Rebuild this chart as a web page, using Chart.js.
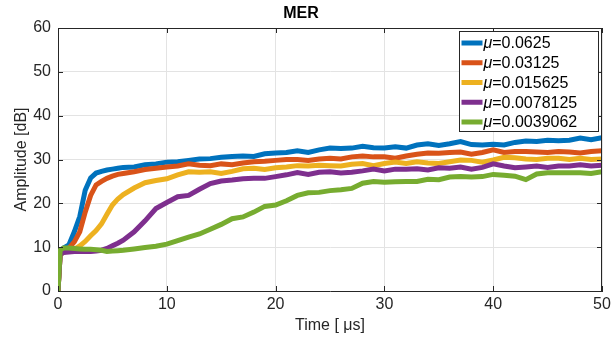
<!DOCTYPE html>
<html>
<head>
<meta charset="utf-8">
<script src="https://cdn.jsdelivr.net/npm/chart.js@4/dist/chart.umd.min.js"></script>
<style>
  html, body { margin: 0; padding: 0; background: #fff; }
  #wrap { width: 612px; height: 337px; }
</style>
</head>
<body>
<div id="wrap"><canvas id="merChart"></canvas></div>
<script>
//time axis [us]
var times = [0, 0.2, 0.5, 1, 1.5, 2, 2.5, 3, 3.5, 4, 4.5, 5, 5.5, 6,
  7, 8, 9, 10, 11, 12, 13, 14, 15, 16, 17, 18, 19, 20, 21, 22, 23, 24, 25,
  26, 27, 28, 29, 30, 31, 32, 33, 34, 35, 36, 37, 38, 39, 40, 41, 42, 43,
  44, 45, 46, 47, 48, 49, 50];

//step sizes (legend)
var muLabels = ['0.0625', '0.03125', '0.015625', '0.0078125', '0.0039062'];
var lineColors = ['#0072BD', '#D95319', '#EDB120', '#7E2F8E', '#77AC30'];

//MER values [dB] per step size
var mer0625 = [0, 8.5, 9.8, 10.5, 13.5, 17, 23, 25.8, 26.9, 27.3, 27.6, 27.8, 28, 28.2,
  28.3, 28.8, 29, 29.4, 29.5, 29.8, 30.1, 30.2, 30.5, 30.7, 30.8, 30.7, 31.3, 31.5, 31.6, 32, 31.6, 32.2, 32.6,
  32.5, 32.6, 33, 32.7, 32.6, 32.9, 32.6, 33.3, 33.6, 33.2, 33.6, 34.1, 33.4, 33.3, 33.5, 33.3, 33.9, 34.2,
  34.1, 34.4, 34.3, 34.4, 34.9, 34.5, 35];
var mer03125 = [0, 8.5, 9.3, 9.8, 11.2, 13.5, 18, 21.8, 24.2, 25, 25.7, 26.2, 26.6, 26.8,
  27.2, 27.7, 28, 28.3, 28.5, 29, 28.7, 28.6, 29, 28.8, 29.2, 29.5, 29.6, 29.8, 30, 30, 29.8, 30.1, 30.3,
  30.1, 30.6, 30.8, 30.6, 30.6, 30.3, 30.8, 31.2, 31.5, 31.4, 31.6, 31.7, 31.2, 31.6, 32.2, 31.6, 31.8, 31.8,
  31.7, 31.6, 31.8, 31.7, 31.5, 31.8, 32];
var mer015625 = [0, 8.3, 8.8, 9.2, 9.5, 10.3, 11.3, 12.6, 13.8, 15.3, 17.5, 19.6, 21, 22,
  23.5, 24.7, 25.2, 25.6, 26.5, 27.2, 27.1, 27.2, 26.8, 27.3, 27.9, 28, 27.7, 28.1, 28.3, 28.6, 28.5, 28.7, 28.6,
  28.5, 28.9, 29.1, 28.6, 29.1, 29.4, 29.1, 29.5, 29.2, 29.1, 29.5, 29.9, 29.8, 29.4, 29.9, 30.5, 30.4, 30.1,
  30, 30.3, 30.3, 30, 30.3, 30, 30.1];
var mer0078 = [0, 8.3, 8.8, 8.9, 9, 9, 9, 9, 9.1, 9.3, 9.7, 10.3, 10.9, 11.6,
  13.5, 16, 18.8, 20.2, 21.5, 21.8, 23.2, 24.5, 25.1, 25.3, 25.6, 25.7, 25.7, 26.1, 26.5, 27, 26.6, 27.1, 27.2,
  26.9, 27.1, 27.4, 27.8, 27.4, 27.8, 27.8, 27.9, 27.6, 28.1, 28, 28.3, 27.8, 28.2, 29, 28.5, 28.1, 28.3,
  28.5, 28.2, 28.5, 28.5, 28.8, 28.5, 28.7];
var mer0039 = [0, 9.3, 9.8, 9.8, 9.7, 9.6, 9.5, 9.5, 9.4, 9.3, 9.0, 9.1, 9.2, 9.3,
  9.6, 9.9, 10.2, 10.7, 11.5, 12.3, 13, 14.1, 15.2, 16.5, 16.9, 18, 19.3, 19.6, 20.6, 21.8, 22.4, 22.5, 22.9,
  23.1, 23.4, 24.6, 25, 24.8, 24.9, 25, 25, 25.5, 25.4, 26, 26.1, 26, 26.1, 26.6, 26.4, 26.2, 25.4,
  26.7, 27, 27, 27, 27, 26.8, 27.2];

var xTicks = [0, 10, 20, 30, 40, 50];
var yTicks = [0, 10, 20, 30, 40, 50, 60];

var axisColor = '#262626';
Chart.defaults.font.family = "'Liberation Sans', Arial, sans-serif";

//building datasets
var series = [mer0625, mer03125, mer015625, mer0078, mer0039];
var datasets = series.map(function (values, i) {
    return {
        label: '\u03bc=' + muLabels[i],
        data: values.map(function (v, k) { return { x: times[k], y: v }; }),
        borderColor: lineColors[i],
        backgroundColor: lineColors[i],
        borderWidth: 5,
        pointRadius: 0,
        tension: 0,
        fill: false,
        order: series.length - i
    };
});

//box, inward ticks and legend like matlab
var matlabPlugin = {
    id: 'matlabBox',
    afterDraw: function (chart) {
        var ctx = chart.ctx;
        var a = chart.chartArea;
        var xs = chart.scales.x, ys = chart.scales.y;
        ctx.save();
        ctx.strokeStyle = axisColor;
        ctx.lineWidth = 1;
        ctx.beginPath();
        ctx.moveTo(a.left, a.top + 0.5);
        ctx.lineTo(a.right, a.top + 0.5);
        ctx.moveTo(a.right - 0.5, a.top);
        ctx.lineTo(a.right - 0.5, a.bottom);
        xTicks.forEach(function (t) {
            var px = Math.round(xs.getPixelForValue(t)) + 0.5;
            ctx.moveTo(px, a.bottom); ctx.lineTo(px, a.bottom - 5);
            ctx.moveTo(px, a.top); ctx.lineTo(px, a.top + 5);
        });
        yTicks.forEach(function (t) {
            var py = Math.round(ys.getPixelForValue(t)) + 0.5;
            ctx.moveTo(a.left, py); ctx.lineTo(a.left + 5, py);
            ctx.moveTo(a.right, py); ctx.lineTo(a.right - 5, py);
        });
        ctx.stroke();

        //legend
        var boxW = 139, boxH = 100;
        var bx = Math.round(a.right - 4 - boxW) + 0.5;
        var by = Math.round(a.top + 3) + 0.5;
        ctx.fillStyle = '#fff';
        ctx.fillRect(bx, by, boxW, boxH);
        ctx.strokeStyle = axisColor;
        ctx.strokeRect(bx, by, boxW, boxH);
        ctx.textBaseline = 'middle';
        chart.data.datasets.forEach(function (ds, i) {
            var ry = by + 11.5 + i * 19.75;
            ctx.strokeStyle = ds.borderColor;
            ctx.lineWidth = 5;
            ctx.beginPath();
            ctx.moveTo(bx + 2, ry);
            ctx.lineTo(bx + 23, ry);
            ctx.stroke();
            ctx.fillStyle = '#000';
            ctx.font = "italic 16px 'Liberation Sans', Arial, sans-serif";
            ctx.fillText('\u03bc', bx + 24, ry + 1);
            var w = ctx.measureText('\u03bc').width;
            ctx.font = "16px 'Liberation Sans', Arial, sans-serif";
            ctx.fillText('=' + muLabels[i], bx + 24 + w, ry + 1);
        });
        ctx.restore();
    }
};

var merChart = new Chart(document.getElementById('merChart').getContext('2d'), {
    type: 'line',
    data: { datasets: datasets },
    options: {
        responsive: true,
        maintainAspectRatio: false,
        animation: false,
        layout: { padding: { left: 0, right: 10, top: 0, bottom: 0 } },
        plugins: {
            legend: { display: false },
            tooltip: { enabled: false },
            title: {
                display: true,
                text: 'MER',
                color: '#000',
                font: { size: 16, weight: 'bold' },
                padding: { top: 4, bottom: 4.8 }
            }
        },
        scales: {
            x: {
                type: 'linear',
                min: 0,
                max: 50,
                afterFit: function (scale) {
                    scale.height = 46;
                    scale.paddingLeft = 0;
                    scale.paddingRight = 0;
                },
                afterBuildTicks: function (scale) {
                    scale.ticks = xTicks.map(function (v) { return { value: v }; });
                },
                ticks: { color: axisColor, font: { size: 16 }, padding: 4, maxRotation: 0 },
                grid: { color: '#e3e3e3', drawTicks: false },
                border: { color: axisColor },
                title: {
                    display: true,
                    text: 'Time [ \u03bcs]',
                    color: axisColor,
                    font: { size: 16 },
                    padding: { top: 0, bottom: 2 }
                }
            },
            y: {
                min: 0,
                max: 60,
                afterFit: function (scale) {
                    scale.width = 58;
                    scale.paddingTop = 0;
                    scale.paddingBottom = 0;
                },
                afterBuildTicks: function (scale) {
                    scale.ticks = yTicks.map(function (v) { return { value: v }; });
                },
                ticks: { color: axisColor, font: { size: 16 }, padding: 7 },
                grid: { color: '#e3e3e3', drawTicks: false },
                border: { color: axisColor },
                title: {
                    display: true,
                    text: 'Amplitude [dB]',
                    color: axisColor,
                    font: { size: 16 },
                    padding: { top: 12, bottom: 0 }
                }
            }
        }
    },
    plugins: [matlabPlugin]
});
</script>
</body>
</html>
